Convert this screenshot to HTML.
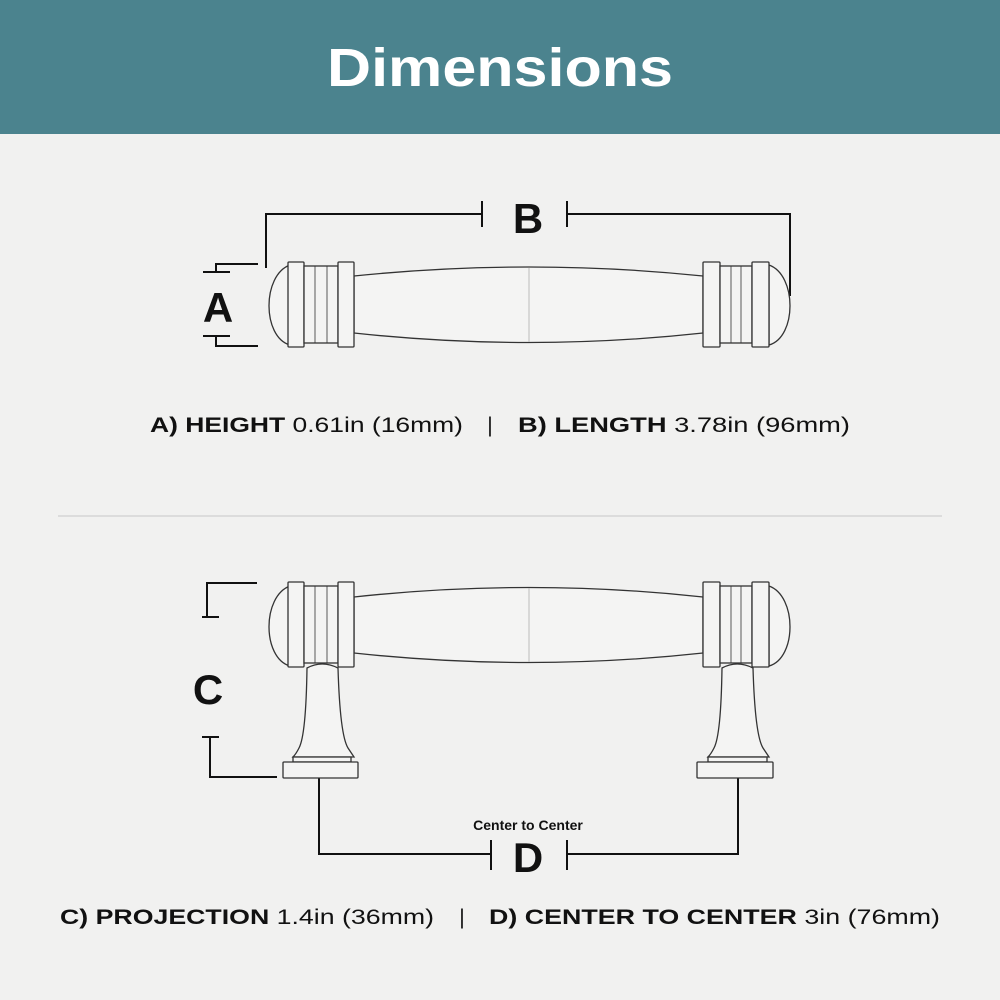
<!DOCTYPE html>
<html><head><meta charset="utf-8"><style>
html,body{margin:0;padding:0;background:#f1f1f0}
svg{display:block}
</style></head><body>
<svg width="1000" height="1000" viewBox="0 0 1000 1000" xmlns="http://www.w3.org/2000/svg" font-family="Liberation Sans, sans-serif">
<rect width="1000" height="1000" fill="#f1f1f0"/>
<rect width="1000" height="134" fill="#4b838e"/>
<text x="500" y="86" text-anchor="middle" fill="#fff" font-size="54" font-weight="bold" textLength="346" lengthAdjust="spacingAndGlyphs">Dimensions</text>

<g fill="none" stroke="#111" stroke-width="2">
<polyline points="266,268 266,214 482,214"/>
<line x1="482" y1="201" x2="482" y2="227"/>
<polyline points="790,296 790,214 567,214"/>
<line x1="567" y1="201" x2="567" y2="227"/>
<polyline points="258,264 216,264 216,272"/>
<line x1="203" y1="272" x2="230" y2="272"/>
<polyline points="258,346 216,346 216,336"/>
<line x1="203" y1="336" x2="230" y2="336"/>
<polyline points="257,583 207,583 207,617"/>
<line x1="202" y1="617" x2="219" y2="617"/>
<polyline points="277,777 210,777 210,737"/>
<line x1="202" y1="737" x2="219" y2="737"/>
<polyline points="319,778 319,854 491,854"/>
<line x1="491" y1="840" x2="491" y2="870"/>
<polyline points="738,778 738,854 567,854"/>
<line x1="567" y1="840" x2="567" y2="870"/>
</g>

<g font-weight="bold" fill="#111" text-anchor="middle">
<text x="528" y="233" font-size="42">B</text>
<text x="218" y="322" font-size="42">A</text>
<text x="208" y="704" font-size="42">C</text>
<text x="528" y="872" font-size="42">D</text>
<text x="528" y="830" font-size="14">Center to Center</text>
</g>

<g fill="#f4f4f3" stroke="#333" stroke-width="1.3">
<path d="M290,265 C262,275 262,337 290,345 Z"/>
<path d="M769,265 C797,275 797,337 769,345 Z"/>
<path d="M354,276 Q529,258 703,276 L703,333 Q529,352 354,333 Z"/>
<line x1="529" y1="268" x2="529" y2="342" stroke="#bbb" stroke-width="1"/>
<rect x="288" y="262" width="16" height="85" rx="1"/>
<rect x="304" y="266" width="34" height="77"/>
<line x1="315" y1="266" x2="315" y2="343" stroke-width="0.8"/>
<line x1="327" y1="266" x2="327" y2="343" stroke-width="0.8"/>
<rect x="338" y="262" width="16" height="85" rx="1"/>
<rect x="703" y="262" width="17" height="85" rx="1"/>
<rect x="720" y="266" width="32" height="77"/>
<line x1="731" y1="266" x2="731" y2="343" stroke-width="0.8"/>
<line x1="741" y1="266" x2="741" y2="343" stroke-width="0.8"/>
<rect x="752" y="262" width="17" height="85" rx="1"/>
</g>

<g fill="#f4f4f3" stroke="#333" stroke-width="1.3">
<path d="M290,586 C262,596 262,658 290,666 Z"/>
<path d="M769,586 C797,596 797,658 769,666 Z"/>
<path d="M354,597 Q529,578 703,597 L703,653 Q529,672 354,653 Z"/>
<line x1="529" y1="588" x2="529" y2="662" stroke="#bbb" stroke-width="1"/>
<path d="M307,668 Q322,660 338,668 Q340,735 348,748 Q352,754 354,757 L293,757 Q296,754 299,748 Q306,735 307,668 Z"/>
<rect x="293" y="757" width="58" height="5"/>
<rect x="283" y="762" width="75" height="16" rx="1"/>
<path d="M722,668 Q737,660 753,668 Q755,735 763,748 Q767,754 769,757 L708,757 Q711,754 714,748 Q721,735 722,668 Z"/>
<rect x="708" y="757" width="59" height="5"/>
<rect x="697" y="762" width="76" height="16" rx="1"/>
<rect x="288" y="582" width="16" height="85" rx="1"/>
<rect x="304" y="586" width="34" height="77"/>
<line x1="315" y1="586" x2="315" y2="663" stroke-width="0.8"/>
<line x1="327" y1="586" x2="327" y2="663" stroke-width="0.8"/>
<rect x="338" y="582" width="16" height="85" rx="1"/>
<rect x="703" y="582" width="17" height="85" rx="1"/>
<rect x="720" y="586" width="32" height="77"/>
<line x1="731" y1="586" x2="731" y2="663" stroke-width="0.8"/>
<line x1="741" y1="586" x2="741" y2="663" stroke-width="0.8"/>
<rect x="752" y="582" width="17" height="85" rx="1"/>
</g>

<line x1="58" y1="516" x2="942" y2="516" stroke="#c8c8c8" stroke-width="1"/>

<g font-size="21" fill="#111">
<text x="150" y="432" textLength="313" lengthAdjust="spacingAndGlyphs"><tspan font-weight="bold">A) HEIGHT</tspan> 0.61in (16mm)</text>
<text x="490" y="432" text-anchor="middle">|</text>
<text x="518" y="432" textLength="332" lengthAdjust="spacingAndGlyphs"><tspan font-weight="bold">B) LENGTH</tspan> 3.78in (96mm)</text>
<text x="60" y="924" textLength="374" lengthAdjust="spacingAndGlyphs"><tspan font-weight="bold">C) PROJECTION</tspan> 1.4in (36mm)</text>
<text x="462" y="924" text-anchor="middle">|</text>
<text x="489" y="924" textLength="451" lengthAdjust="spacingAndGlyphs"><tspan font-weight="bold">D) CENTER TO CENTER</tspan> 3in (76mm)</text>
</g>
</svg>
</body></html>
